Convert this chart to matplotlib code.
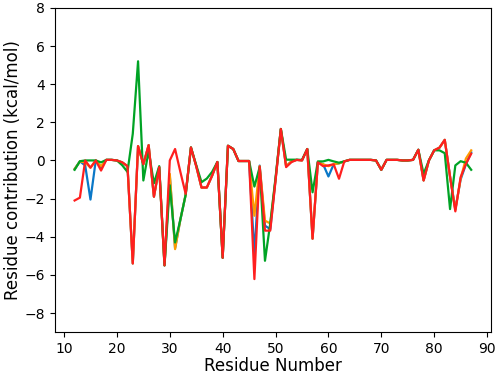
import numpy as np
import matplotlib
matplotlib.use("Agg")
import matplotlib.pyplot as plt

# --- data ---
residues = np.arange(12, 88)

blue = [-0.45, -0.05, -0.26, -2.05, 0.0, -0.35, 0.03, 0.03, 0.0, -0.1,
        -0.3, -5.4, 0.75, -0.2, 0.8, -1.9, -0.35, -5.5, -0.8, -4.6,
        -3.1, -1.8, 0.68, -0.3, -1.42, -1.42, -0.8, -0.08, -5.1, 0.77,
        0.6, -0.03, -0.03, -0.03, -4.9, -0.27, -3.42, -3.6, -1.0, 1.65,
        -0.3, -0.05, 0.03, 0.0, 0.6, -4.1, -0.1, -0.2, -0.84, -0.2,
        -0.15, -0.05, 0.03, 0.03, 0.03, 0.03, 0.03, 0.0, -0.49, 0.03,
        0.03, 0.03, 0.0, 0.0, 0.03, 0.56, -1.05, 0.0, 0.53, 0.67,
        1.08, -0.85, -2.55, -1.0, -0.2, 0.42]

orange = [-0.45, -0.05, -0.1, -0.38, 0.0, -0.3, 0.03, 0.03, 0.0, -0.1,
          -0.3, -5.4, 0.75, -0.2, 0.8, -1.9, -0.35, -5.5, -0.7, -4.65,
          -3.1, -1.8, 0.68, -0.3, -1.42, -1.42, -0.8, -0.08, -5.1, 0.77,
          0.6, -0.03, -0.03, -0.03, -2.9, -0.3, -3.16, -3.3, -1.0, 1.65,
          -0.3, -0.05, 0.03, 0.0, 0.6, -4.1, -0.1, -0.2, -0.3, -0.2,
          -0.15, -0.05, 0.03, 0.03, 0.03, 0.03, 0.03, 0.0, -0.49, 0.03,
          0.03, 0.03, 0.0, 0.0, 0.03, 0.56, -1.05, 0.0, 0.53, 0.67,
          1.08, -0.85, -2.6, -0.95, 0.1, 0.53]

green = [-0.49, -0.04, 0.0, 0.0, 0.0, -0.1, 0.03, 0.03, 0.0, -0.25,
         -0.6, 1.4, 5.2, -1.05, 0.5, -1.2, -0.3, -5.5, -1.3, -4.3,
         -3.1, -1.8, 0.68, -0.25, -1.14, -0.95, -0.6, -0.08, -5.1, 0.77,
         0.6, -0.03, -0.03, -0.03, -1.37, -0.35, -5.26, -3.3, -0.9, 1.65,
         0.04, 0.04, 0.04, 0.03, 0.6, -1.67, -0.05, -0.05, 0.03, -0.05,
         -0.12, -0.05, 0.03, 0.03, 0.03, 0.03, 0.03, 0.0, -0.49, 0.03,
         0.03, 0.03, 0.0, 0.0, 0.03, 0.56, -0.7, 0.0, 0.53, 0.53,
         0.38, -2.55, -0.26, -0.04, -0.12, -0.49]

red = [-2.1, -1.95, 0.0, -0.38, 0.0, -0.53, 0.03, 0.03, 0.0, -0.1,
       -0.3, -5.4, 0.75, -0.2, 0.8, -1.9, -0.35, -5.5, 0.0, 0.6,
       -0.6, -1.75, 0.68, -0.3, -1.42, -1.42, -0.8, -0.08, -5.1, 0.77,
       0.6, -0.03, -0.03, -0.03, -6.22, -0.32, -3.68, -3.68, -1.05, 1.65,
       -0.35, -0.09, 0.03, 0.0, 0.6, -4.1, -0.1, -0.3, -0.26, -0.2,
       -0.96, -0.05, 0.03, 0.03, 0.03, 0.03, 0.03, 0.0, -0.49, 0.03,
       0.03, 0.03, 0.0, 0.0, 0.03, 0.56, -1.05, 0.0, 0.53, 0.67,
       1.08, -0.85, -2.67, -0.88, -0.18, 0.35]

series = [blue, orange, green, red]
colors = ["#0a78c8", "#ff9a00", "#00a325", "#ff1f1f"]

fig = plt.figure(figsize=(4.98, 3.74), dpi=100)
ax = fig.add_axes([0.110, 0.112, 0.876, 0.867])

for vals, c in zip(series, colors):
    ax.plot(residues, vals, color=c, linewidth=1.6)

ax.set_ylim(-9, 8)
ax.set_yticks(np.arange(-8, 9, 2))
ax.set_xticks(np.arange(10, 91, 10))
ax.tick_params(labelsize=10)
ax.set_xlabel("Residue Number", fontsize=12, labelpad=1)
ax.set_ylabel("Residue contribution (kcal/mol)", fontsize=12, labelpad=2)

fig.savefig("out.png", dpi=100)
